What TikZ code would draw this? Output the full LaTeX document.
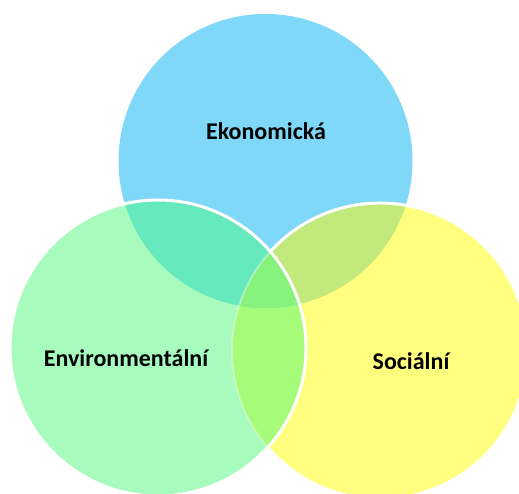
\documentclass[tikz,border=0pt]{standalone}
\usepackage{fontspec}
\setmainfont{Carlito}
\definecolor{cblue}{HTML}{7FD8F7}
\definecolor{cgreen}{HTML}{A6FBBD}
\definecolor{cyellow}{HTML}{FFFF7F}
\definecolor{cbg}{HTML}{66E9BD}
\definecolor{cby}{HTML}{C2E97C}
\definecolor{cgy}{HTML}{A6FC79}
\definecolor{call}{HTML}{88F27E}
\begin{document}
\begin{tikzpicture}[x=1pt,y=1pt,
  lbl/.style={font=\bfseries\fontsize{24}{28}\selectfont, text=black},
  rim/.style={draw=white, line width=3pt}]
\useasboundingbox (0,0) rectangle (519,494);
\clip (0,0) rectangle (519,494);
\coordinate (cb) at (265.5,333);
\coordinate (cg) at (158,146);
\coordinate (cy) at (380,143);
\def\rb{147}\def\rg{148}\def\ry{148}
% blue
\fill[cblue] (cb) circle (\rb);
% yellow
\fill[cyellow] (cy) circle (\ry);
\begin{scope}
  \clip (cb) circle (\rb);
  \fill[cby] (cy) circle (\ry);
\end{scope}
\draw[rim] (cy) circle (\ry);
% green
\fill[cgreen] (cg) circle (\rg);
\begin{scope}
  \clip (cg) circle (\rg);
  \fill[cgy] (cy) circle (\ry);
  \begin{scope}
    \clip (cb) circle (\rb);
    \fill[cbg] (cg) circle (\rg);
    \clip (cy) circle (\ry);
    \fill[call] (cb) circle (\rb);
  \end{scope}
  \draw[draw=white, line width=2pt, draw opacity=0.35] (cy) circle (\ry);
\end{scope}
\draw[rim] (cg) circle (\rg);
% labels
\node[lbl] (eko) at (266,363) {Ekonomická};
\node[lbl] (env) at (126,136) {Environmentální};
\node[lbl] (soc) at (411,133) {Sociální};
\end{tikzpicture}
\end{document}
